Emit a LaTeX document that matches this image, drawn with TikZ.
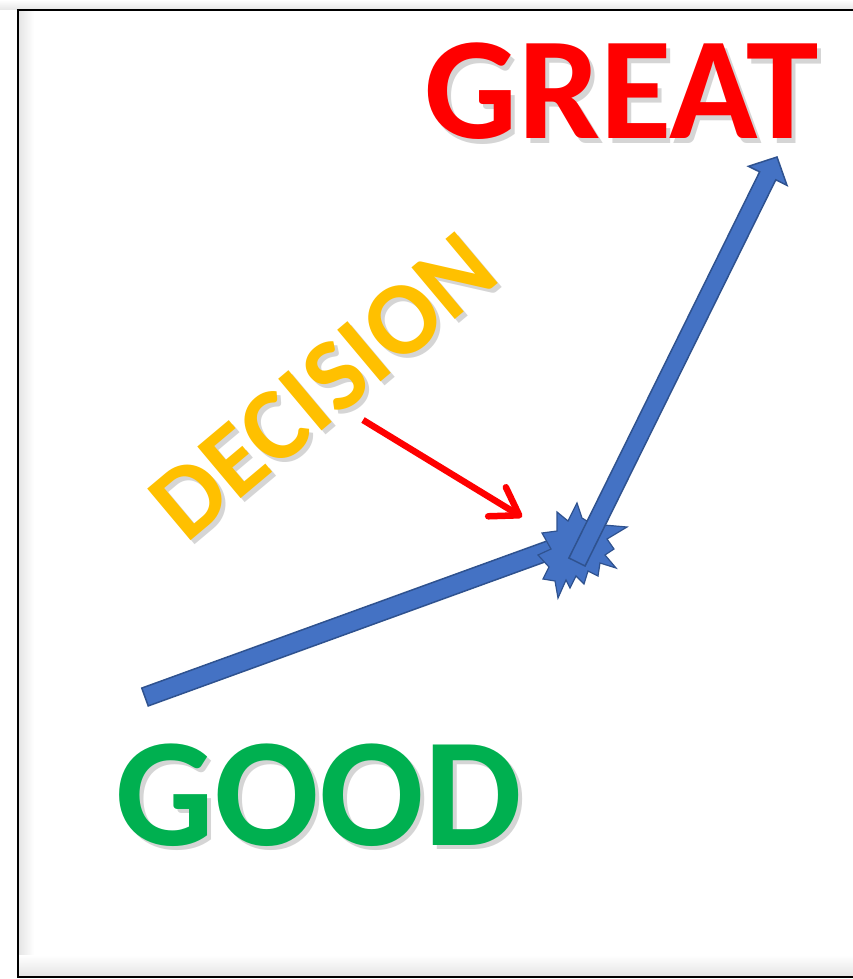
\documentclass[tikz,border=0pt]{standalone}
\usepackage{fontspec}
\setmainfont{Carlito}
\usetikzlibrary{calc,arrows.meta}
\definecolor{pptblue}{RGB}{68,114,196}
\definecolor{pptblueline}{RGB}{47,82,143}
\definecolor{pptgreen}{RGB}{0,176,80}
\definecolor{pptgold}{RGB}{255,192,0}
\tikzset{
  word/.style={anchor=base,inner sep=0pt,outer sep=0pt,font=\bfseries\fontsize{#1}{#1}\selectfont},
  ghost/.style={text=black!55,text opacity=.3},
  band/.style={fill=pptblue,draw=pptblueline,line width=1.5pt,line join=miter},
}

\begin{document}
\begin{tikzpicture}[x=1pt,y=-1pt]
  \useasboundingbox (0,0) rectangle (853,979);
  \clip (0,0) rectangle (853,979);
  % frame with its soft shadow
  \shade[top color=white,bottom color=black!10] (0,0) rectangle (853,10);
  \shade[left color=black!10,right color=white] (19,11) rectangle (34,976);
  \shade[top color=white,bottom color=black!10] (19,955) rectangle (853,976);
  \draw[line width=2.2pt] (18,10) rectangle (870,977);

  % words
  \node[word=146,ghost] (greatshadow) at (626,143) {GREAT};
  \node[word=146,text=red] (great) at (622,139) {GREAT};
  \node[word=155,ghost] (goodshadow) at (323,849) {GOOD};
  \node[word=155,text=pptgreen] (good) at (319,845) {GOOD};
  \node[word=104,ghost,rotate=40] (decisionshadow) at (349,416) {DECISION};
  \node[word=104,text=pptgold,rotate=40] (decision) at (345,412) {DECISION};

  % the two legs and the turning point
  \coordinate (goodtail) at (145,697); \coordinate (turn) at (572,542);
  \coordinate (turntail) at (577,562); \coordinate (greattip) at (777,157);
  \coordinate (greatneck) at ($(greattip)!21pt!(turntail)$);
  \draw[band] ($(goodtail)!9.5pt!90:(turn)$) -- ($(turn)!9.5pt!-90:(goodtail)$)
    -- ($(turn)!9.5pt!90:(goodtail)$) -- ($(goodtail)!9.5pt!-90:(turn)$) -- cycle;
  \draw[band,line width=1.2pt] (538,555) -- (551,549) -- (542,533) -- (557,531) -- (557,512)
    -- (568,521) -- (577,503) -- (582,518) -- (592,524) -- (627,527) -- (607,539)
    -- (614,549) -- (605,555) -- (616,568) -- (600,563) -- (598,576) -- (588,571)
    -- (584,584) -- (576,576) -- (570,588) -- (566,580) -- (558,598) -- (555,581)
    -- (543,579) -- (549,567) -- cycle;
  \draw[band] ($(turntail)!9pt!90:(greattip)$) -- ($(greatneck)!9pt!90:(greattip)$)
    -- ($(greatneck)!21.5pt!90:(greattip)$) -- (greattip)
    -- ($(greatneck)!21.5pt!-90:(greattip)$) -- ($(greatneck)!9pt!-90:(greattip)$)
    -- ($(turntail)!9pt!-90:(greattip)$) -- cycle;

  % pointer from the word to the turn
  \coordinate (pointtail) at (363,420); \coordinate (pointtip) at (522,517);
  \draw[red,line width=6.5pt,-{Straight Barb[length=26pt,width=34pt,round]}] (pointtail) -- (pointtip);
\end{tikzpicture}
\end{document}
